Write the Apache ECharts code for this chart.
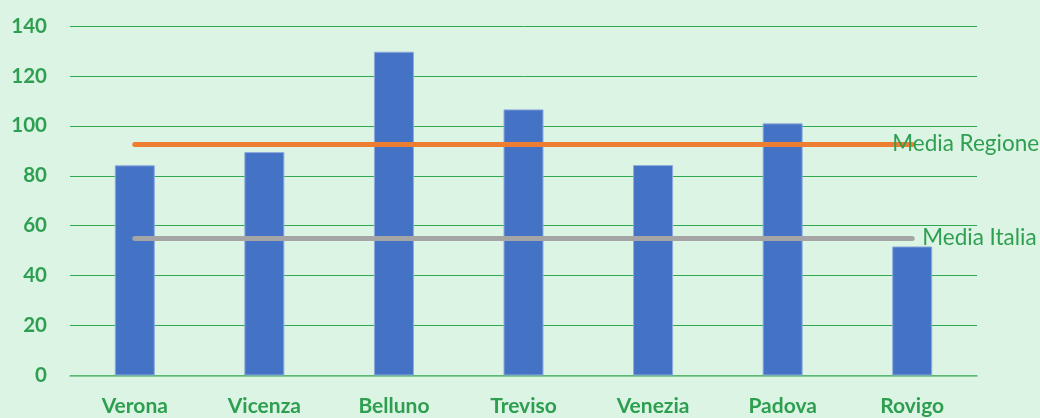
<!DOCTYPE html>
<html><head><meta charset="utf-8">
<script src="https://cdn.jsdelivr.net/npm/echarts@6/dist/echarts.min.js"></script>
<style>html,body{margin:0;padding:0;background:#DCF4E3;}#c{width:1040px;height:418px;}</style>
</head><body><div id="c"></div>
<script>
const categories = ['Verona','Vicenza','Belluno','Treviso','Venezia','Padova','Rovigo'];
const values = [84.2, 89.5, 129.7, 106.6, 84.3, 101.0, 51.7];
const mediaRegione = 92.7;
const mediaItalia = 55.1;
const yTicks = [0,20,40,60,80,100,120,140];

const green = '#2E9F50';
const chart = echarts.init(document.getElementById('c'));
chart.setOption({
  backgroundColor: '#DCF4E3',
  animation: false,
  grid: {left: 70, right: 63, top: 26, bottom: 42.5},
  xAxis: {
    type: 'category', data: categories,
    axisLine: {lineStyle: {color: '#6CBF83', width: 1.5}},
    axisTick: {show: false},
    axisLabel: {color: green, fontFamily: 'Lato', fontWeight: 'bold', fontSize: 21, margin: 20}
  },
  yAxis: {
    type: 'value', min: yTicks[0], max: yTicks[yTicks.length-1], interval: 20,
    axisLine: {show: false}, axisTick: {show: false},
    axisLabel: {color: green, fontFamily: 'Lato', fontWeight: 'bold', fontSize: 20.5, margin: 23},
    splitLine: {lineStyle: {color: '#2FA84F', width: 1}}
  },
  series: [{
    type: 'bar', data: values, barWidth: 40,
    itemStyle: {color: '#4472C4', borderColor: '#8FAADC', borderWidth: 1},
    markLine: {
      silent: true, symbol: 'none',
      data: [
        [{coord: [categories[0], mediaRegione], lineStyle: {color: '#ED7D31'}, label: {formatter: 'Media Regione', distance: -20}},
         {coord: [categories[categories.length-1], mediaRegione]}],
        [{coord: [categories[0], mediaItalia], lineStyle: {color: '#A5A5A5'}, label: {formatter: 'Media Italia', distance: 10}},
         {coord: [categories[categories.length-1], mediaItalia]}]
      ],
      lineStyle: {type: 'solid', width: 5, cap: 'round'},
      label: {position: 'end', color: green, fontFamily: 'Lato', fontSize: 22.5}
    }
  }]
});
</script></body></html>
